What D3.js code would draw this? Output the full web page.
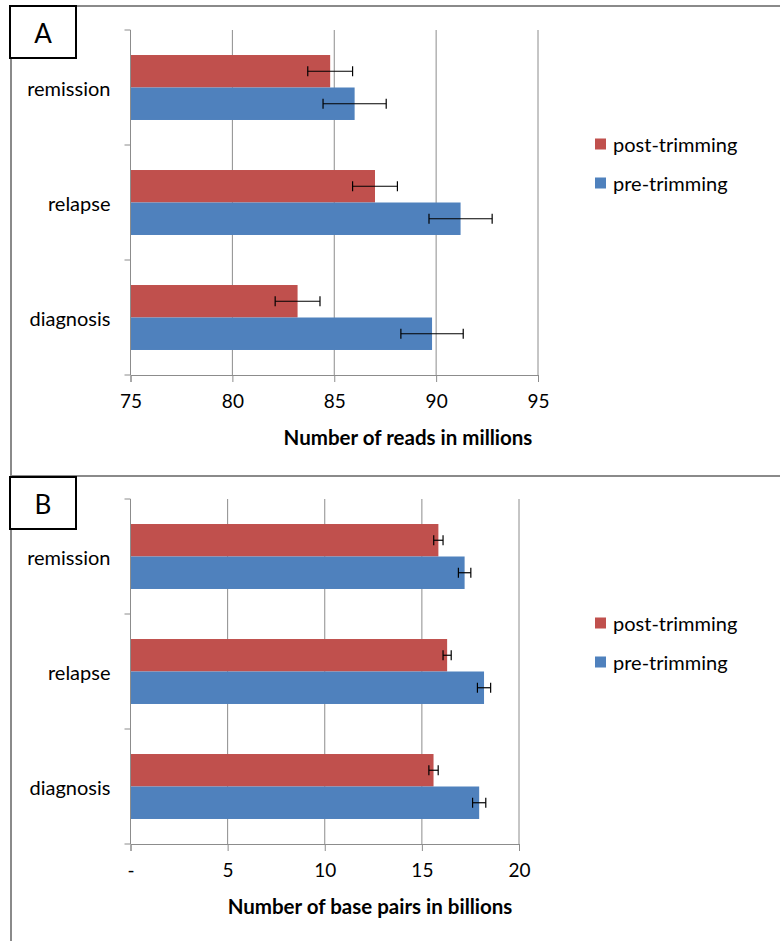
<!DOCTYPE html>
<html>
<head>
<meta charset="utf-8">
<script src="https://cdn.jsdelivr.net/npm/d3@7"></script>
<style>
  html, body { margin: 0; padding: 0; background: #fff; }
  svg { display: block; }
  text { font-family: Lato, "Liberation Sans", sans-serif; fill: #000; }
</style>
</head>
<body>
<svg id="chart" width="780" height="941"></svg>
<script>
// Sample groups, listed top to bottom
const categories = ["remission", "relapse", "diagnosis"];
const seriesNames = ["post-trimming", "pre-trimming"];
const seriesColors = ["#C0504D", "#4F81BD"];

// Panel A: read counts (millions)
const readsPost = [84.8, 87.0, 83.2];
const readsPostErr = [1.1, 1.1, 1.1];
const readsPre = [86.0, 91.2, 89.8];
const readsPreErr = [1.55, 1.55, 1.53];
const readsTicks = [75, 80, 85, 90, 95];

// Panel B: base pairs (billions)
const bpPost = [15.85, 16.3, 15.6];
const bpPostErr = [0.24, 0.21, 0.24];
const bpPre = [17.2, 18.2, 17.95];
const bpPreErr = [0.32, 0.34, 0.34];
const bpTicks = [0, 5, 10, 15, 20];

const svg = d3.select("#chart");
const frameColor = "#8a8a8a";
const gridColor = "#8c8c8c";

// panel frames
svg.append("path")
  .attr("d", "M11,941 V6 H780 M11,476 H780")
  .attr("fill", "none").attr("stroke", frameColor).attr("stroke-width", 2);

function drawPanel(opt) {
  const g = svg.append("g");
  const x = d3.scaleLinear().domain(opt.domain).range([opt.left, opt.right]);
  const y = d3.scaleBand().domain(categories).range([opt.top, opt.bottom]).padding(0);
  const ys = d3.scaleBand().domain(seriesNames).range([0, y.bandwidth()])
    .paddingInner(0).paddingOuter(0.77);

  // vertical gridlines
  g.append("g").selectAll("line").data(opt.ticks.slice(1)).join("line")
    .attr("x1", d => x(d)).attr("x2", d => x(d))
    .attr("y1", opt.top).attr("y2", opt.bottom)
    .attr("stroke", gridColor).attr("stroke-width", 1);

  // bars
  const rows = [];
  categories.forEach((c, i) => {
    opt.series.forEach((s, k) => {
      rows.push({ cat: c, name: seriesNames[k], value: s.values[i], err: s.errs[i], color: seriesColors[k] });
    });
  });
  g.append("g").selectAll("rect").data(rows).join("rect")
    .attr("x", x(opt.domain[0]))
    .attr("y", d => y(d.cat) + ys(d.name))
    .attr("width", d => x(d.value) - x(opt.domain[0]))
    .attr("height", ys.bandwidth())
    .attr("fill", d => d.color);

  // error bars
  const eb = g.append("g").attr("stroke", "#000").attr("stroke-width", 1.2);
  rows.forEach(d => {
    const cy = y(d.cat) + ys(d.name) + ys.bandwidth() / 2;
    const x0 = x(d.value - d.err), x1 = x(d.value + d.err);
    eb.append("line").attr("x1", x0).attr("x2", x1).attr("y1", cy).attr("y2", cy);
    [x0, x1].forEach(xx => eb.append("line")
      .attr("x1", xx).attr("x2", xx).attr("y1", cy - 5).attr("y2", cy + 5));
  });

  // x axis
  const xAxis = d3.axisBottom(x).tickValues(opt.ticks).tickSize(7).tickPadding(13)
    .tickFormat(opt.format);
  const ax = g.append("g").attr("transform", `translate(0,${opt.bottom})`).call(xAxis);
  ax.select(".domain").attr("stroke", gridColor);
  ax.selectAll(".tick line").attr("stroke", gridColor);
  ax.selectAll(".tick text").attr("font-size", 19).attr("font-family", "Lato");

  // y axis with ticks on category boundaries
  g.append("line").attr("x1", opt.left).attr("x2", opt.left)
    .attr("y1", opt.top).attr("y2", opt.bottom).attr("stroke", gridColor);
  const bounds = categories.map(c => y(c)).concat([opt.bottom]);
  g.append("g").selectAll("line").data(bounds).join("line")
    .attr("x1", opt.left - 6).attr("x2", opt.left)
    .attr("y1", d => d).attr("y2", d => d).attr("stroke", gridColor);

  g.append("g").selectAll("text").data(categories).join("text")
    .attr("x", opt.left - 20)
    .attr("y", d => y(d) + y.bandwidth() / 2)
    .attr("text-anchor", "end").attr("dominant-baseline", "central")
    .attr("font-size", 20)
    .text(d => d);

  // axis title
  g.append("text")
    .attr("x", opt.titleX).attr("y", opt.bottom + 62)
    .attr("text-anchor", "middle").attr("dominant-baseline", "central")
    .attr("font-size", 20.5).attr("font-weight", "bold")
    .text(opt.title);

  // legend
  seriesNames.forEach((s, k) => {
    const ly = opt.legendY + k * 39;
    g.append("rect").attr("x", 595).attr("y", ly - 5.5).attr("width", 11).attr("height", 11)
      .attr("fill", seriesColors[k]);
    g.append("text").attr("x", 613).attr("y", ly)
      .attr("dominant-baseline", "central").attr("font-size", 20).text(s);
  });

  // panel letter box
  svg.append("rect").attr("x", 10).attr("y", opt.boxY).attr("width", 66).attr("height", 52)
    .attr("fill", "#fff").attr("stroke", "#000").attr("stroke-width", 2);
  svg.append("text").attr("x", 43).attr("y", opt.boxY + 27)
    .attr("text-anchor", "middle").attr("dominant-baseline", "central")
    .attr("font-size", 26).text(opt.letter);
}

drawPanel({
  letter: "A", boxY: 6,
  domain: [75, 95], ticks: readsTicks, format: d3.format("d"),
  left: 130.5, right: 538, top: 30, bottom: 375,
  series: [{ values: readsPost, errs: readsPostErr }, { values: readsPre, errs: readsPreErr }],
  title: "Number of reads in millions", titleX: 408, legendY: 144
});

drawPanel({
  letter: "B", boxY: 477,
  domain: [0, 20], ticks: bpTicks, format: d => d === 0 ? "-" : d,
  left: 130.5, right: 519, top: 499, bottom: 844,
  series: [{ values: bpPost, errs: bpPostErr }, { values: bpPre, errs: bpPreErr }],
  title: "Number of base pairs in billions", titleX: 370, legendY: 623
});
</script>
</body>
</html>
